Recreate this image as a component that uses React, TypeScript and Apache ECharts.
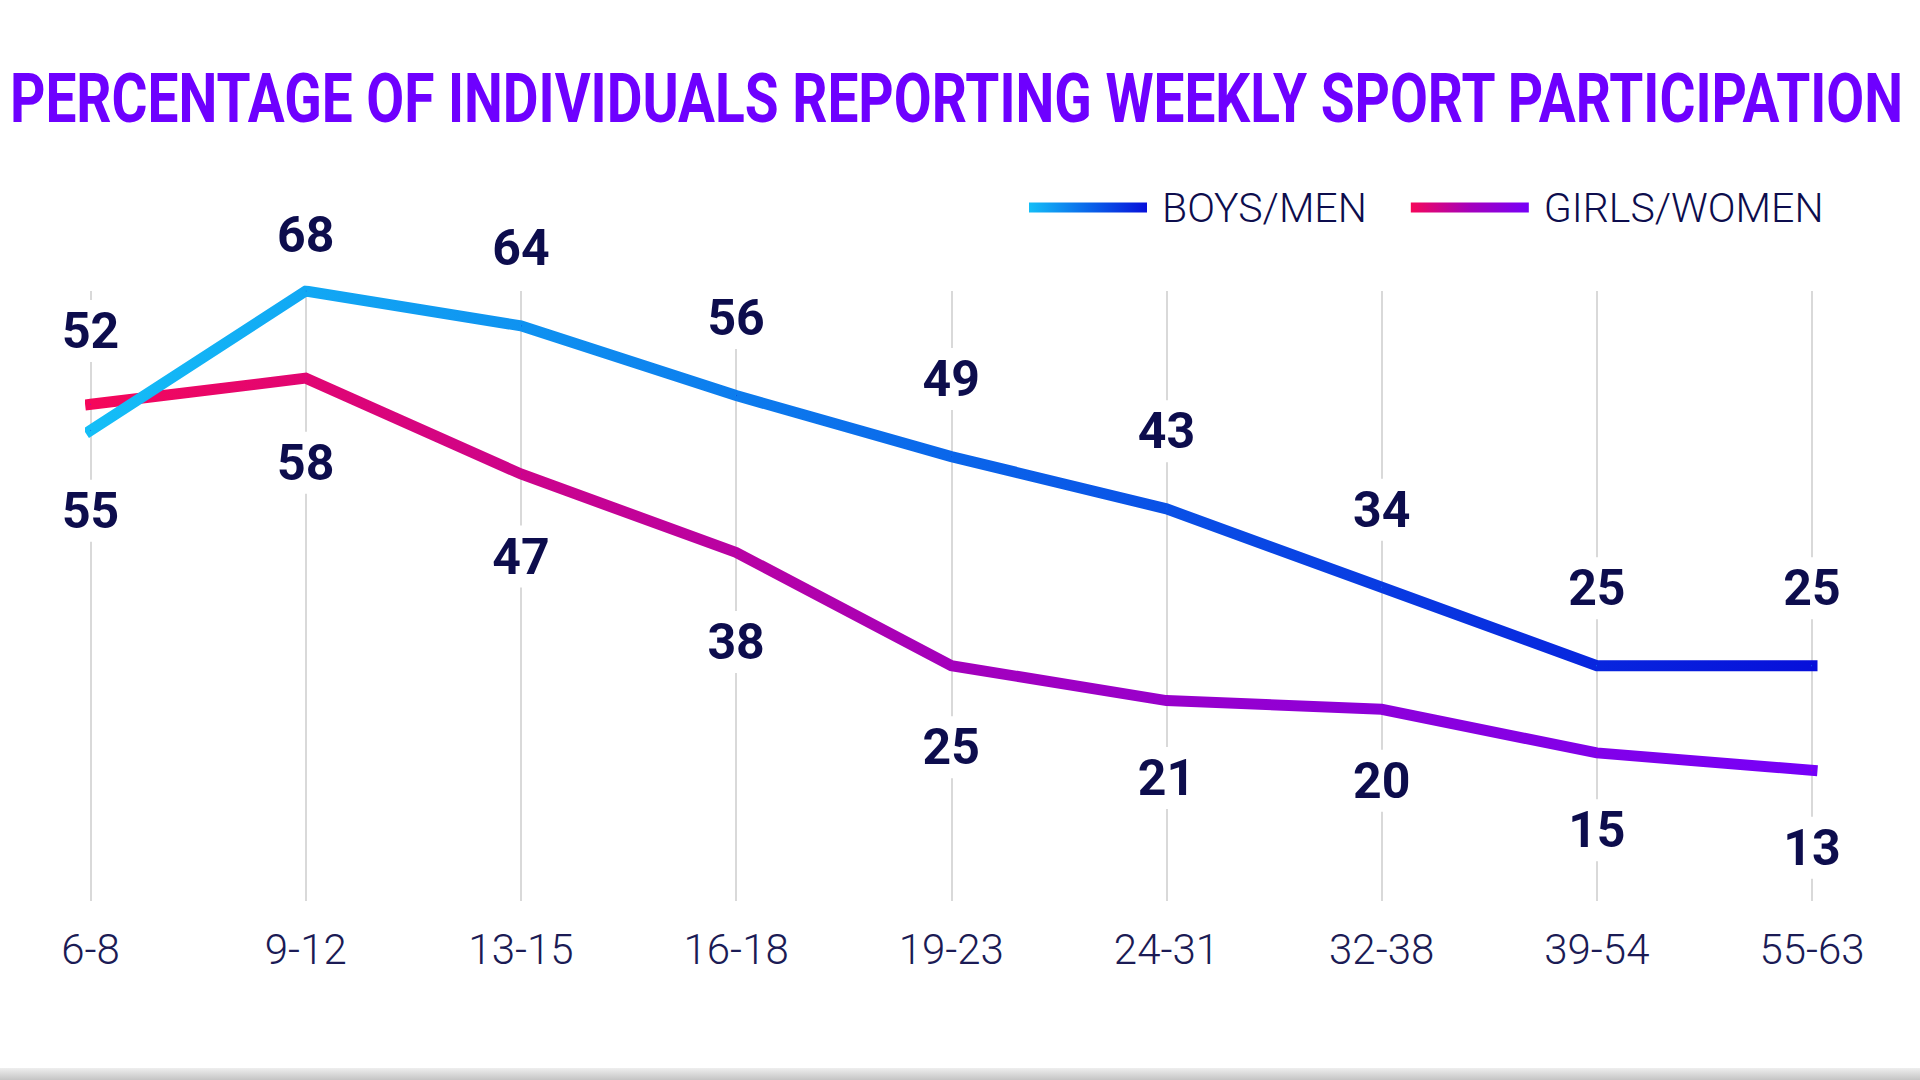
import React, { useEffect, useRef } from 'react';
import * as echarts from 'echarts';

const TITLE = 'PERCENTAGE OF INDIVIDUALS REPORTING WEEKLY SPORT PARTICIPATION';
const ageGroups = ['6-8', '9-12', '13-15', '16-18', '19-23', '24-31', '32-38', '39-54', '55-63'];
const boysMen = [52, 68, 64, 56, 49, 43, 34, 25, 25];
const girlsWomen = [55, 58, 47, 38, 25, 21, 20, 15, 13];
const seriesNames = ['BOYS/MEN', 'GIRLS/WOMEN'];

// label nudges (pixels, vertical) — styling only
const boysLabelNudge = [-22, 21, 0, 0, 0, 0, 0, 0, 0];
const girlsLabelNudge = [29, 7, 5, 12, 4, 0, -6, 0, 0];

const NAVY = '#0d0d4d';

export default function App() {
  const ref = useRef<HTMLDivElement>(null);

  useEffect(() => {
    document.body.style.margin = '0';
    const chart = echarts.init(ref.current!, null, { renderer: 'svg' });

    const titleFont = 'bold 69px Roboto';
    const canvas = document.createElement('canvas');
    const ctx = canvas.getContext('2d')!;
    ctx.font = titleFont;
    const measured = ctx.measureText(TITLE).width || 2500;
    const titleScale = 1894 / measured;

    const boysGrad = () =>
      new echarts.graphic.LinearGradient(0, 0, 1, 0, [
        { offset: 0, color: '#14BEF7' },
        { offset: 0.5, color: '#0A66EA' },
        { offset: 1, color: '#0710DA' },
      ]);
    const girlsGrad = () =>
      new echarts.graphic.LinearGradient(0, 0, 1, 0, [
        { offset: 0, color: '#F5075A' },
        { offset: 0.5, color: '#A400BC' },
        { offset: 1, color: '#7600F8' },
      ]);

    const labelBase = {
      show: true,
      fontFamily: 'Roboto',
      fontWeight: 'bold' as const,
      fontSize: 50,
      color: NAVY,
      backgroundColor: '#ffffff',
      padding: [6, 4],
      distance: 46,
    };

    const withNudge = (vals: number[], nudges: number[]) =>
      vals.map((v, i) => ({ value: v, label: { offset: [0, nudges[i] || 0] } }));

    chart.setOption({
      animation: false,
      backgroundColor: '#ffffff',
      textStyle: { fontFamily: 'Roboto' },
      graphic: [
        {
          type: 'text',
          x: 10,
          y: 98,
          scaleX: titleScale,
          style: {
            text: TITLE,
            font: titleFont,
            fill: '#6E00FF',
            align: 'left',
            verticalAlign: 'middle',
          },
        },
        {
          type: 'rect',
          shape: { x: 0, y: 1068, width: 1920, height: 12 },
          style: {
            fill: new echarts.graphic.LinearGradient(0, 0, 0, 1, [
              { offset: 0, color: '#eeeeee' },
              { offset: 1, color: '#c4c4c4' },
            ]),
          },
          silent: true,
        },
      ],
      legend: {
        left: 1024,
        top: 182,
        itemWidth: 118,
        itemHeight: 10,
        itemGap: 44,
        icon: 'rect',
        data: [
          { name: seriesNames[0], itemStyle: { color: boysGrad() } },
          { name: seriesNames[1], itemStyle: { color: girlsGrad() } },
        ],
        textStyle: {
          fontFamily: 'Roboto',
          fontWeight: 300,
          fontSize: 41,
          color: NAVY,
          padding: [0, 0, 0, 10],
        },
      },
      grid: { left: 90.6, right: 108, top: 291, bottom: 179, containLabel: false },
      xAxis: {
        type: 'category',
        data: ageGroups,
        boundaryGap: false,
        axisLine: { show: false },
        axisTick: { show: false },
        axisLabel: {
          interval: 0,
          margin: 27,
          fontFamily: 'Roboto',
          fontWeight: 300,
          fontSize: 42,
          color: '#1b1b55',
        },
        splitLine: { show: true, lineStyle: { color: '#cccccc', width: 1.5 } },
      },
      yAxis: {
        type: 'value',
        min: -2,
        max: 68,
        show: false,
        splitLine: { show: false },
      },
      series: [
        {
          name: seriesNames[0],
          type: 'line',
          data: withNudge(boysMen, boysLabelNudge),
          showSymbol: true,
          symbol: 'circle',
          symbolSize: 1,
          itemStyle: { color: boysGrad() },
          lineStyle: { width: 11, color: boysGrad(), cap: 'square', join: 'miter' },
          label: { ...labelBase, position: 'top' },
          z: 3,
        },
        {
          name: seriesNames[1],
          type: 'line',
          data: withNudge(girlsWomen, girlsLabelNudge),
          showSymbol: true,
          symbol: 'circle',
          symbolSize: 1,
          itemStyle: { color: girlsGrad() },
          lineStyle: { width: 11, color: girlsGrad(), cap: 'square', join: 'miter' },
          label: { ...labelBase, position: 'bottom' },
          z: 2,
        },
      ],
    });

    return () => chart.dispose();
  }, []);

  return (
    <div
      ref={ref}
      style={{ position: 'fixed', left: 0, top: 0, width: 1920, height: 1080, background: '#fff' }}
    />
  );
}
